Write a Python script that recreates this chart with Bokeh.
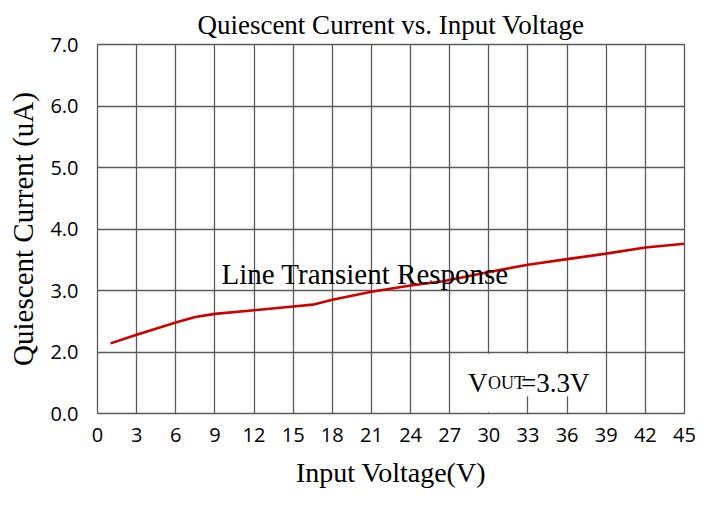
from bokeh.plotting import figure
from bokeh.models import FixedTicker, Label, BoxAnnotation
from bokeh.embed import file_html
from bokeh.resources import INLINE

# data
vin = [1, 3, 6, 7.5, 9, 12, 15, 16.5, 18, 21, 24, 26.5, 30, 33, 36, 39, 42, 45]
iq = [2.14, 2.28, 2.48, 2.57, 2.62, 2.68, 2.74, 2.77, 2.85, 2.98, 3.08, 3.15, 3.30, 3.42, 3.51, 3.60, 3.70, 3.76]

x_ticks = list(range(0, 46, 3))
y_ticks = [1, 2, 3, 4, 5, 6, 7]
y_tick_labels = ["0.0", "2.0", "3.0", "4.0", "5.0", "6.0", "7.0"]

SERIF = "Liberation Serif"
SANS = "Open Sans"
GRID = "#5a5a5a"

p = figure(width=696, height=490, output_backend="svg", toolbar_location=None,
           x_range=(0, 45), y_range=(1, 7),
           min_border_left=97, min_border_right=12, min_border_top=44, min_border_bottom=77,
           title="Quiescent Current vs. Input Voltage")
p.background_fill_color = "white"
p.border_fill_color = "white"
p.outline_line_color = GRID
p.outline_line_width = 1.3

p.title.text_font = SERIF
p.title.text_font_size = "27px"
p.title.text_font_style = "normal"
p.title.align = "center"
p.title.text_color = "black"
p.title.standoff = 10

p.xaxis.ticker = FixedTicker(ticks=x_ticks)
p.yaxis.ticker = FixedTicker(ticks=y_ticks)
p.yaxis.major_label_overrides = {t: l for t, l in zip(y_ticks, y_tick_labels)}

for ax in (p.xaxis[0], p.yaxis[0]):
    ax.axis_line_color = None
    ax.major_tick_line_color = None
    ax.minor_tick_line_color = None
    ax.major_label_text_font = SANS
    ax.major_label_text_font_size = "20px"
    ax.major_label_text_color = "black"
    ax.axis_label_text_font = SERIF
    ax.axis_label_text_font_style = "normal"
    ax.axis_label_text_color = "black"

p.xaxis.axis_label = "Input Voltage(V)"
p.xaxis.axis_label_text_font_size = "28px"
p.xaxis.major_label_standoff = 8
p.xaxis.axis_label_standoff = 12
p.yaxis.axis_label = "Quiescent Current (uA)"
p.yaxis.axis_label_text_font_size = "29px"
p.yaxis.major_label_standoff = 13
p.yaxis.axis_label_standoff = 8

p.xgrid.grid_line_color = GRID
p.ygrid.grid_line_color = GRID
p.xgrid.grid_line_width = 1.3
p.ygrid.grid_line_width = 1.3

# white label box that hides grid lines behind the VOUT note
p.add_layout(BoxAnnotation(left=28.0, right=38.5, bottom=1.28, top=1.97,
                           fill_color="white", fill_alpha=1.0, line_alpha=0))
p.add_layout(BoxAnnotation(left=29.5, right=30.5, bottom=1.02, top=1.3,
                           fill_color="white", fill_alpha=1.0, line_alpha=0))

p.line(vin, iq, line_color="#cc0000", line_width=2.6)

p.add_layout(Label(x=9.5, y=3.27, text="Line Transient Response", text_font=SERIF,
                   text_font_size="29px", text_color="black", text_baseline="alphabetic"))
p.add_layout(Label(x=28.4, y=1.5, text="V", text_font=SERIF,
                   text_font_size="27px", text_color="black", text_baseline="alphabetic"))
p.add_layout(Label(x=28.4, y=1.5, x_offset=20, text="OUT", text_font=SERIF,
                   text_font_size="18px", text_color="black", text_baseline="alphabetic"))
p.add_layout(Label(x=28.4, y=1.5, x_offset=53, text="=3.3V", text_font=SERIF,
                   text_font_size="27px", text_color="black", text_baseline="alphabetic"))

open("out.html", "w").write(file_html(p, INLINE))
